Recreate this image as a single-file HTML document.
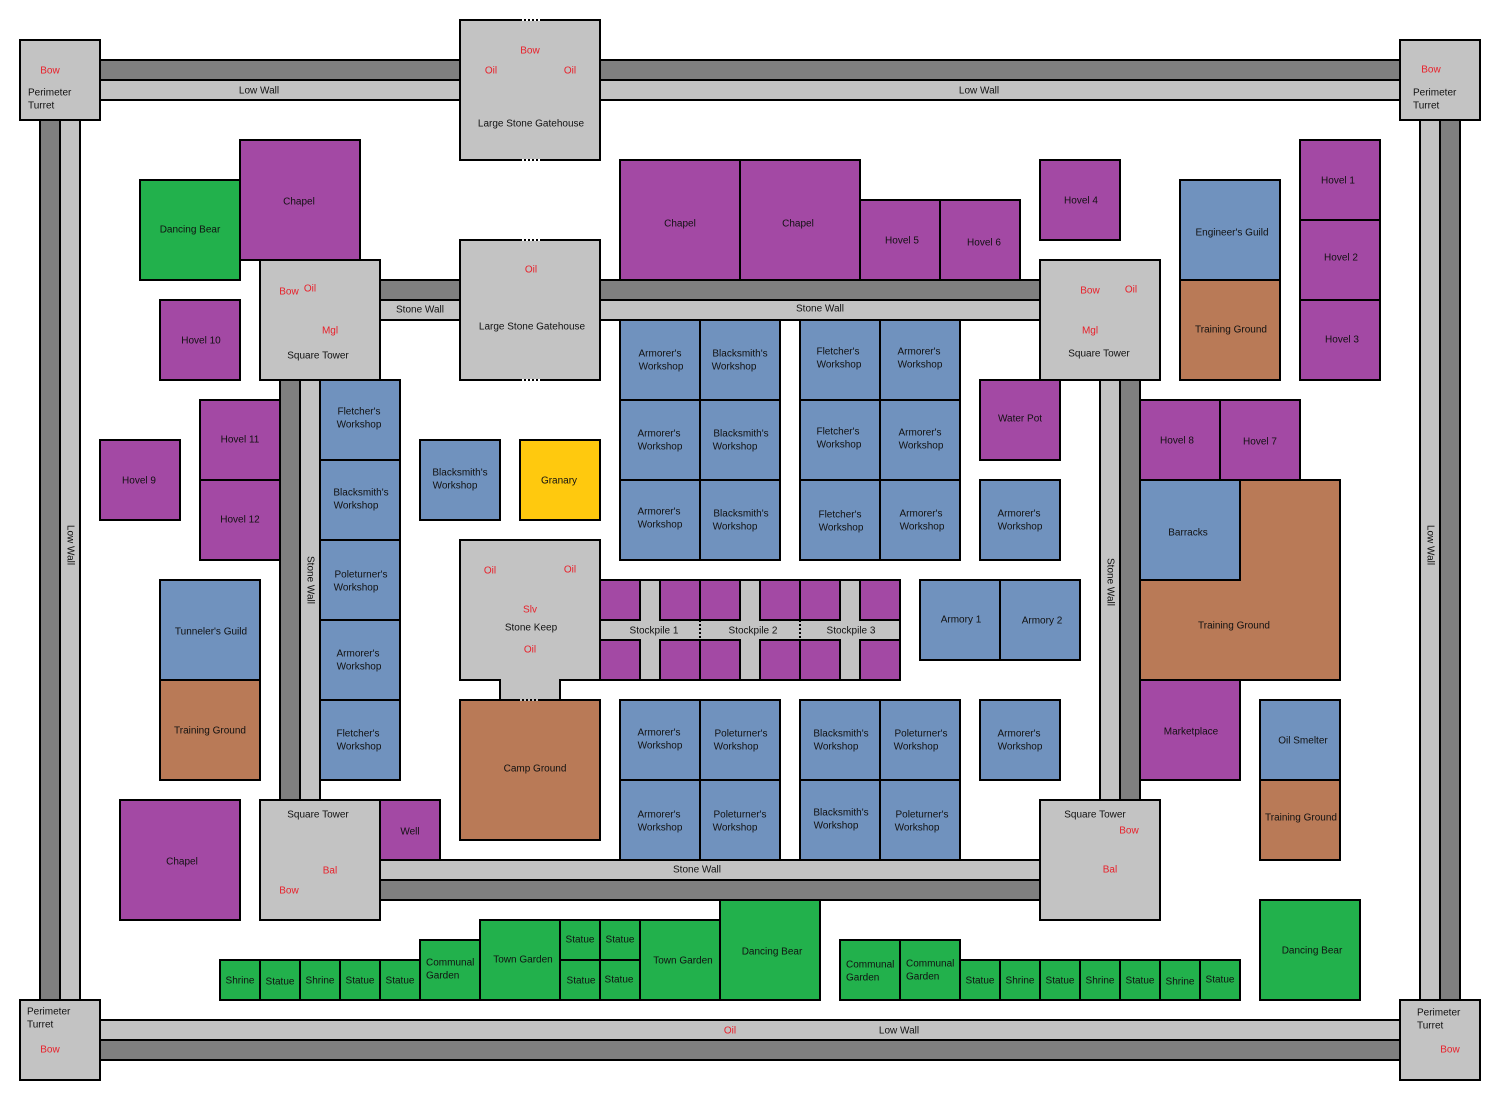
<!DOCTYPE html>
<html><head><meta charset="utf-8"><style>
html,body{margin:0;padding:0;background:#fff;width:1500px;height:1100px;overflow:hidden}
svg text{font-family:"Liberation Sans",sans-serif;font-size:10px;fill:#111;text-anchor:middle;dominant-baseline:middle}
svg text.r{fill:#e8202a}
svg text.l{text-anchor:start}
rect{stroke:#000;stroke-width:2}
.g{fill:#c3c3c3}.d{fill:#7f7f7f}.p{fill:#a349a4}.gr{fill:#22b14c}.b{fill:#7092be}.br{fill:#b97a57}.y{fill:#ffc90e}
</style></head><body>
<svg width="1500" height="1100" viewBox="0 0 1500 1100" xmlns="http://www.w3.org/2000/svg">
<!-- outer walls -->
<rect class="d" x="100" y="60" width="1300" height="20"/>
<rect class="g" x="100" y="80" width="1300" height="20"/>
<rect class="g" x="100" y="1020" width="1300" height="20"/>
<rect class="d" x="100" y="1040" width="1300" height="20"/>
<rect class="d" x="40" y="120" width="20" height="880"/>
<rect class="g" x="60" y="120" width="20" height="880"/>
<rect class="g" x="1420" y="120" width="20" height="880"/>
<rect class="d" x="1440" y="120" width="20" height="880"/>
<text x="259" y="91">Low Wall</text>
<text x="979" y="91">Low Wall</text>
<text x="899" y="1031">Low Wall</text>
<text class="r" x="730" y="1031">Oil</text>
<text transform="translate(70,545) rotate(90)">Low Wall</text>
<text transform="translate(1430,545) rotate(90)">Low Wall</text>
<!-- turrets -->
<rect class="g" x="20" y="40" width="80" height="80"/>
<text class="r" x="50" y="71">Bow</text><text class="l" x="28" y="93">Perimeter</text><text class="l" x="28" y="106">Turret</text>
<rect class="g" x="1400" y="40" width="80" height="80"/>
<text class="r" x="1431" y="70">Bow</text><text class="l" x="1413" y="93">Perimeter</text><text class="l" x="1413" y="106">Turret</text>
<rect class="g" x="20" y="1000" width="80" height="80"/>
<text class="l" x="27" y="1012">Perimeter</text><text class="l" x="27" y="1025">Turret</text><text class="r" x="50" y="1050">Bow</text>
<rect class="g" x="1400" y="1000" width="80" height="80"/>
<text class="l" x="1417" y="1013">Perimeter</text><text class="l" x="1417" y="1026">Turret</text><text class="r" x="1450" y="1050">Bow</text>
<!-- top gatehouse -->
<rect class="g" x="460" y="20" width="140" height="140"/>
<text class="r" x="530" y="51">Bow</text><text class="r" x="491" y="71">Oil</text><text class="r" x="570" y="71">Oil</text>
<text x="531" y="124">Large Stone Gatehouse</text>
<line x1="522" y1="20" x2="540" y2="20" stroke="#fff" stroke-width="2" stroke-dasharray="2,2"/>
<line x1="522" y1="160" x2="540" y2="160" stroke="#fff" stroke-width="2" stroke-dasharray="2,2"/>
<!-- inner walls -->
<rect class="d" x="380" y="280" width="660" height="20"/>
<rect class="g" x="380" y="300" width="660" height="20"/>
<text x="420" y="310">Stone Wall</text><text x="820" y="309">Stone Wall</text>
<rect class="g" x="380" y="860" width="660" height="20"/>
<rect class="d" x="380" y="880" width="660" height="20"/>
<text x="697" y="870">Stone Wall</text>
<rect class="d" x="280" y="380" width="20" height="420"/>
<rect class="g" x="300" y="380" width="20" height="420"/>
<text transform="translate(310,580) rotate(90)">Stone Wall</text>
<rect class="g" x="1100" y="380" width="20" height="420"/>
<rect class="d" x="1120" y="380" width="20" height="420"/>
<text transform="translate(1110,582) rotate(90)">Stone Wall</text>
<!-- inner gatehouse -->
<rect class="g" x="460" y="240" width="140" height="140"/>
<text class="r" x="531" y="270">Oil</text><text x="532" y="327">Large Stone Gatehouse</text>
<line x1="522" y1="240" x2="540" y2="240" stroke="#fff" stroke-width="2" stroke-dasharray="2,2"/>
<line x1="522" y1="380" x2="540" y2="380" stroke="#fff" stroke-width="2" stroke-dasharray="2,2"/>
<!-- towers -->
<rect class="g" x="260" y="260" width="120" height="120"/>
<text class="r" x="289" y="292">Bow</text><text class="r" x="310" y="289">Oil</text><text class="r" x="330" y="331">Mgl</text><text x="318" y="356">Square Tower</text>
<rect class="g" x="1040" y="260" width="120" height="120"/>
<text class="r" x="1090" y="291">Bow</text><text class="r" x="1131" y="290">Oil</text><text class="r" x="1090" y="331">Mgl</text><text x="1099" y="354">Square Tower</text>
<rect class="g" x="260" y="800" width="120" height="120"/>
<text x="318" y="815">Square Tower</text><text class="r" x="330" y="871">Bal</text><text class="r" x="289" y="891">Bow</text>
<rect class="g" x="1040" y="800" width="120" height="120"/>
<text x="1095" y="815">Square Tower</text><text class="r" x="1129" y="831">Bow</text><text class="r" x="1110" y="870">Bal</text>
<!-- top-left area -->
<rect class="gr" x="140" y="180" width="100" height="100"/><text x="190" y="230">Dancing Bear</text>
<rect class="p" x="240" y="140" width="120" height="120"/><text x="299" y="202">Chapel</text>
<rect class="p" x="160" y="300" width="80" height="80"/><text x="201" y="341">Hovel 10</text>
<rect class="p" x="200" y="400" width="80" height="80"/><text x="240" y="440">Hovel 11</text>
<rect class="p" x="200" y="480" width="80" height="80"/><text x="240" y="520">Hovel 12</text>
<rect class="p" x="100" y="440" width="80" height="80"/><text x="139" y="481">Hovel 9</text>
<rect class="b" x="160" y="580" width="100" height="100"/><text x="211" y="632">Tunneler's Guild</text>
<rect class="br" x="160" y="680" width="100" height="100"/><text x="210" y="731">Training Ground</text>
<rect class="p" x="120" y="800" width="120" height="120"/><text x="182" y="862">Chapel</text>
<rect class="p" x="380" y="800" width="60" height="60"/><text x="410" y="832">Well</text>
<rect class="b" x="320" y="380" width="80" height="80"/><text x="359" y="412">Fletcher's</text><text x="359" y="425">Workshop</text>
<rect class="b" x="320" y="460" width="80" height="80"/><text x="361" y="493">Blacksmith's</text><text x="356" y="506">Workshop</text>
<rect class="b" x="320" y="540" width="80" height="80"/><text x="361" y="575">Poleturner's</text><text x="356" y="588">Workshop</text>
<rect class="b" x="320" y="620" width="80" height="80"/><text x="358" y="654">Armorer's</text><text x="359" y="667">Workshop</text>
<rect class="b" x="320" y="700" width="80" height="80"/><text x="358" y="734">Fletcher's</text><text x="359" y="747">Workshop</text>
<rect class="b" x="420" y="440" width="80" height="80"/><text x="460" y="473">Blacksmith's</text><text x="455" y="486">Workshop</text>
<rect class="y" x="520" y="440" width="80" height="80"/><text x="559" y="481">Granary</text>
<!-- keep -->
<polygon points="460,540 600,540 600,680 560,680 560,700 500,700 500,680 460,680" fill="#c3c3c3" stroke="#000" stroke-width="2"/>
<text class="r" x="490" y="571">Oil</text><text class="r" x="570" y="570">Oil</text><text class="r" x="530" y="610">Slv</text><text x="531" y="628">Stone Keep</text><text class="r" x="530" y="650">Oil</text>
<rect class="br" x="460" y="700" width="140" height="140"/><text x="535" y="769">Camp Ground</text>
<line x1="520" y1="700" x2="540" y2="700" stroke="#c3c3c3" stroke-width="2" stroke-dasharray="2,2"/>
<!-- stockpiles -->
<rect x="600" y="580" width="300" height="100" fill="#c3c3c3" stroke="none"/>
<rect class="p" x="600" y="580" width="40" height="40"/><rect class="p" x="660" y="580" width="40" height="40"/><rect class="p" x="700" y="580" width="40" height="40"/>
<rect class="p" x="760" y="580" width="40" height="40"/><rect class="p" x="800" y="580" width="40" height="40"/><rect class="p" x="860" y="580" width="40" height="40"/>
<rect class="p" x="600" y="640" width="40" height="40"/><rect class="p" x="660" y="640" width="40" height="40"/><rect class="p" x="700" y="640" width="40" height="40"/>
<rect class="p" x="760" y="640" width="40" height="40"/><rect class="p" x="800" y="640" width="40" height="40"/><rect class="p" x="860" y="640" width="40" height="40"/>
<g stroke="#000" stroke-width="2" stroke-dasharray="2,2">
<line x1="640" y1="580" x2="660" y2="580"/><line x1="740" y1="580" x2="760" y2="580"/><line x1="840" y1="580" x2="860" y2="580"/>
<line x1="640" y1="680" x2="660" y2="680"/><line x1="740" y1="680" x2="760" y2="680"/><line x1="840" y1="680" x2="860" y2="680"/>
<line x1="700" y1="620" x2="700" y2="640"/><line x1="800" y1="620" x2="800" y2="640"/><line x1="900" y1="620" x2="900" y2="640"/>
</g>
<text x="654" y="631">Stockpile 1</text><text x="753" y="631">Stockpile 2</text><text x="851" y="631">Stockpile 3</text>
<!-- top middle -->
<rect class="p" x="620" y="160" width="120" height="120"/><text x="680" y="224">Chapel</text>
<rect class="p" x="740" y="160" width="120" height="120"/><text x="798" y="224">Chapel</text>
<rect class="p" x="860" y="200" width="80" height="80"/><text x="902" y="241">Hovel 5</text>
<rect class="p" x="940" y="200" width="80" height="80"/><text x="984" y="243">Hovel 6</text>
<rect class="p" x="1040" y="160" width="80" height="80"/><text x="1081" y="201">Hovel 4</text>
<!-- workshop grid -->
<rect class="b" x="620" y="320" width="80" height="80"/><text x="660" y="354">Armorer's</text><text x="661" y="367">Workshop</text>
<rect class="b" x="700" y="320" width="80" height="80"/><text x="740" y="354">Blacksmith's</text><text x="734" y="367">Workshop</text>
<rect class="b" x="800" y="320" width="80" height="80"/><text x="838" y="352">Fletcher's</text><text x="839" y="365">Workshop</text>
<rect class="b" x="880" y="320" width="80" height="80"/><text x="919" y="352">Armorer's</text><text x="920" y="365">Workshop</text>
<rect class="b" x="620" y="400" width="80" height="80"/><text x="659" y="434">Armorer's</text><text x="660" y="447">Workshop</text>
<rect class="b" x="700" y="400" width="80" height="80"/><text x="741" y="434">Blacksmith's</text><text x="735" y="447">Workshop</text>
<rect class="b" x="800" y="400" width="80" height="80"/><text x="838" y="432">Fletcher's</text><text x="839" y="445">Workshop</text>
<rect class="b" x="880" y="400" width="80" height="80"/><text x="920" y="433">Armorer's</text><text x="921" y="446">Workshop</text>
<rect class="b" x="620" y="480" width="80" height="80"/><text x="659" y="512">Armorer's</text><text x="660" y="525">Workshop</text>
<rect class="b" x="700" y="480" width="80" height="80"/><text x="741" y="514">Blacksmith's</text><text x="735" y="527">Workshop</text>
<rect class="b" x="800" y="480" width="80" height="80"/><text x="840" y="515">Fletcher's</text><text x="841" y="528">Workshop</text>
<rect class="b" x="880" y="480" width="80" height="80"/><text x="921" y="514">Armorer's</text><text x="922" y="527">Workshop</text>
<rect class="p" x="980" y="380" width="80" height="80"/><text x="1020" y="419">Water Pot</text>
<rect class="b" x="980" y="480" width="80" height="80"/><text x="1019" y="514">Armorer's</text><text x="1020" y="527">Workshop</text>
<rect class="b" x="920" y="580" width="80" height="80"/><text x="961" y="620">Armory 1</text>
<rect class="b" x="1000" y="580" width="80" height="80"/><text x="1042" y="621">Armory 2</text>
<rect class="b" x="620" y="700" width="80" height="80"/><text x="659" y="733">Armorer's</text><text x="660" y="746">Workshop</text>
<rect class="b" x="700" y="700" width="80" height="80"/><text x="741" y="734">Poleturner's</text><text x="736" y="747">Workshop</text>
<rect class="b" x="800" y="700" width="80" height="80"/><text x="841" y="734">Blacksmith's</text><text x="836" y="747">Workshop</text>
<rect class="b" x="880" y="700" width="80" height="80"/><text x="921" y="734">Poleturner's</text><text x="916" y="747">Workshop</text>
<rect class="b" x="620" y="780" width="80" height="80"/><text x="659" y="815">Armorer's</text><text x="660" y="828">Workshop</text>
<rect class="b" x="700" y="780" width="80" height="80"/><text x="740" y="815">Poleturner's</text><text x="735" y="828">Workshop</text>
<rect class="b" x="800" y="780" width="80" height="80"/><text x="841" y="813">Blacksmith's</text><text x="836" y="826">Workshop</text>
<rect class="b" x="880" y="780" width="80" height="80"/><text x="922" y="815">Poleturner's</text><text x="917" y="828">Workshop</text>
<rect class="b" x="980" y="700" width="80" height="80"/><text x="1019" y="734">Armorer's</text><text x="1020" y="747">Workshop</text>
<!-- right -->
<rect class="b" x="1180" y="180" width="100" height="100"/><text x="1232" y="233">Engineer's Guild</text>
<rect class="br" x="1180" y="280" width="100" height="100"/><text x="1231" y="330">Training Ground</text>
<rect class="p" x="1300" y="140" width="80" height="80"/><text x="1338" y="181">Hovel 1</text>
<rect class="p" x="1300" y="220" width="80" height="80"/><text x="1341" y="258">Hovel 2</text>
<rect class="p" x="1300" y="300" width="80" height="80"/><text x="1342" y="340">Hovel 3</text>
<rect class="p" x="1140" y="400" width="80" height="80"/><text x="1177" y="441">Hovel 8</text>
<rect class="p" x="1220" y="400" width="80" height="80"/><text x="1260" y="442">Hovel 7</text>
<polygon points="1240,480 1340,480 1340,680 1140,680 1140,580 1240,580" fill="#b97a57" stroke="#000" stroke-width="2"/>
<rect class="b" x="1140" y="480" width="100" height="100"/><text x="1188" y="533">Barracks</text>
<text x="1234" y="626">Training Ground</text>
<rect class="p" x="1140" y="680" width="100" height="100"/><text x="1191" y="732">Marketplace</text>
<rect class="b" x="1260" y="700" width="80" height="80"/><text x="1303" y="741">Oil Smelter</text>
<rect class="br" x="1260" y="780" width="80" height="80"/><text x="1301" y="818">Training Ground</text>
<rect class="gr" x="1260" y="900" width="100" height="100"/><text x="1312" y="951">Dancing Bear</text>
<!-- bottom gardens -->
<rect class="gr" x="220" y="960" width="40" height="40"/><text x="240" y="981">Shrine</text>
<rect class="gr" x="260" y="960" width="40" height="40"/><text x="280" y="982">Statue</text>
<rect class="gr" x="300" y="960" width="40" height="40"/><text x="320" y="981">Shrine</text>
<rect class="gr" x="340" y="960" width="40" height="40"/><text x="360" y="981">Statue</text>
<rect class="gr" x="380" y="960" width="40" height="40"/><text x="400" y="981">Statue</text>
<rect class="gr" x="420" y="940" width="60" height="60"/><text class="l" x="426" y="963">Communal</text><text class="l" x="426" y="976">Garden</text>
<rect class="gr" x="480" y="920" width="80" height="80"/><text x="523" y="960">Town Garden</text>
<rect class="gr" x="560" y="920" width="40" height="40"/><text x="580" y="940">Statue</text>
<rect class="gr" x="600" y="920" width="40" height="40"/><text x="620" y="940">Statue</text>
<rect class="gr" x="560" y="960" width="40" height="40"/><text x="581" y="981">Statue</text>
<rect class="gr" x="600" y="960" width="40" height="40"/><text x="619" y="980">Statue</text>
<rect class="gr" x="640" y="920" width="80" height="80"/><text x="683" y="961">Town Garden</text>
<rect class="gr" x="720" y="900" width="100" height="100"/><text x="772" y="952">Dancing Bear</text>
<rect class="gr" x="840" y="940" width="60" height="60"/><text class="l" x="846" y="965">Communal</text><text class="l" x="846" y="978">Garden</text>
<rect class="gr" x="900" y="940" width="60" height="60"/><text class="l" x="906" y="964">Communal</text><text class="l" x="906" y="977">Garden</text>
<rect class="gr" x="960" y="960" width="40" height="40"/><text x="980" y="981">Statue</text>
<rect class="gr" x="1000" y="960" width="40" height="40"/><text x="1020" y="981">Shrine</text>
<rect class="gr" x="1040" y="960" width="40" height="40"/><text x="1060" y="981">Statue</text>
<rect class="gr" x="1080" y="960" width="40" height="40"/><text x="1100" y="981">Shrine</text>
<rect class="gr" x="1120" y="960" width="40" height="40"/><text x="1140" y="981">Statue</text>
<rect class="gr" x="1160" y="960" width="40" height="40"/><text x="1180" y="982">Shrine</text>
<rect class="gr" x="1200" y="960" width="40" height="40"/><text x="1220" y="980">Statue</text>
</svg>
</body></html>
